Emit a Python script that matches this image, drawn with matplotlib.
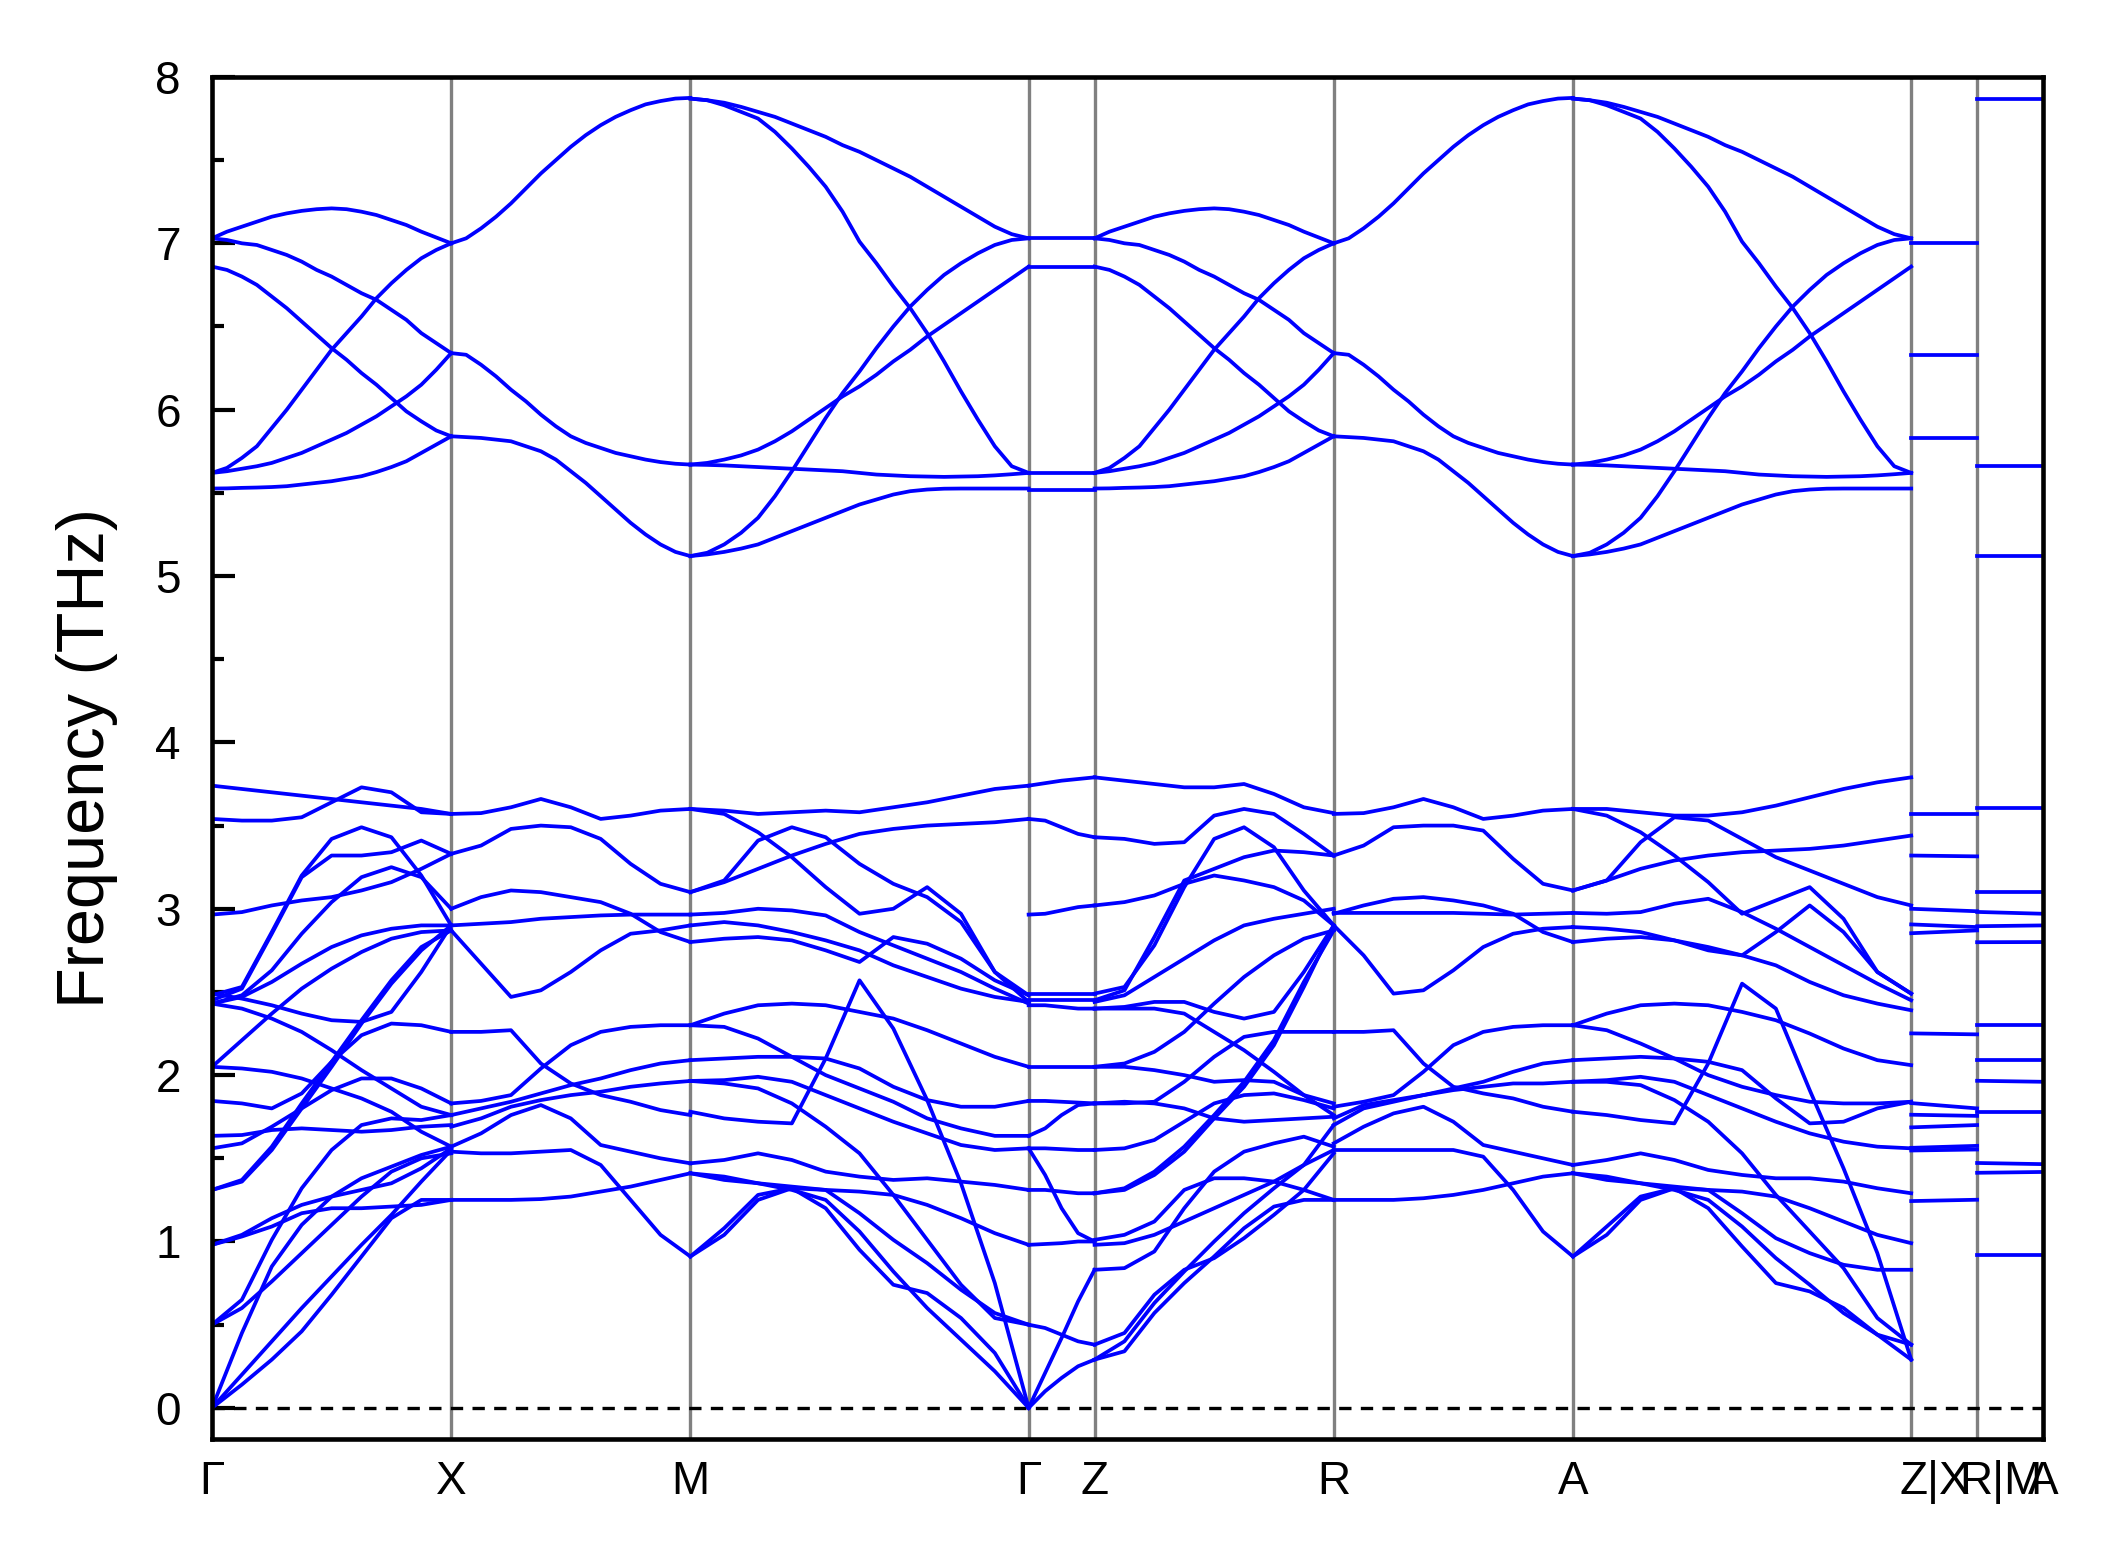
import numpy as np
import matplotlib.pyplot as plt
from matplotlib.ticker import MultipleLocator
from matplotlib.transforms import ScaledTranslation

plt.rcParams['font.family'] = ['Liberation Sans', 'DejaVu Sans']

# path: segment lengths in units of |Γ-X|
seg_len = [1.0, 1.0, 1.4142, 0.2756, 1.0, 1.0, 1.4142, 0.2756, 0.2756]
tick_labels = ["Γ", "X", "M", "Γ", "Z", "R", "A", "Z|X", "R|M", "A"]

# frequencies (THz) read along each segment, evenly spaced samples
# upper optical group, Γ-X / X-M / M-Γ (Z-R / R-A / A-Z look the same)
gx_up = [
    [7.03, 7.07, 7.10, 7.13, 7.16, 7.18, 7.195, 7.205, 7.21, 7.205, 7.19, 7.17, 7.14, 7.11, 7.07, 7.035, 7.00],
    [7.03, 7.02, 7.00, 6.99, 6.96, 6.93, 6.89, 6.84, 6.80, 6.75, 6.70, 6.66, 6.60, 6.54, 6.46, 6.40, 6.34],
    [6.86, 6.84, 6.80, 6.75, 6.68, 6.61, 6.53, 6.45, 6.37, 6.30, 6.22, 6.15, 6.07, 5.99, 5.93, 5.875, 5.84],
    [5.62, 5.65, 5.71, 5.78, 5.89, 6.00, 6.12, 6.24, 6.36, 6.46, 6.56, 6.67, 6.76, 6.84, 6.91, 6.96, 7.00],
    [5.62, 5.63, 5.645, 5.66, 5.68, 5.71, 5.74, 5.78, 5.82, 5.86, 5.91, 5.96, 6.02, 6.08, 6.15, 6.24, 6.34],
    [5.526, 5.527, 5.53, 5.532, 5.535, 5.54, 5.55, 5.56, 5.57, 5.585, 5.60, 5.625, 5.655, 5.69, 5.74, 5.79, 5.84],
]
xm_up = [
    [7.00, 7.03, 7.09, 7.16, 7.24, 7.33, 7.42, 7.50, 7.58, 7.65, 7.71, 7.76, 7.80, 7.835, 7.855, 7.87, 7.874],
    [6.34, 6.33, 6.27, 6.20, 6.12, 6.05, 5.97, 5.90, 5.84, 5.80, 5.77, 5.74, 5.72, 5.70, 5.685, 5.675, 5.67],
    [5.84, 5.835, 5.83, 5.82, 5.81, 5.78, 5.75, 5.70, 5.63, 5.56, 5.48, 5.40, 5.32, 5.25, 5.19, 5.145, 5.12],
]
mg_up = [
    [7.87, 7.86, 7.845, 7.82, 7.79, 7.76, 7.72, 7.68, 7.64, 7.59, 7.55,
     7.50, 7.45, 7.40, 7.34, 7.28, 7.22, 7.16, 7.10, 7.055, 7.03],
    [7.87, 7.86, 7.83, 7.79, 7.75, 7.67, 7.57, 7.46, 7.34, 7.19, 7.01,
     6.88, 6.74, 6.61, 6.46, 6.29, 6.11, 5.94, 5.78, 5.66, 5.62],
    [5.12, 5.14, 5.19, 5.26, 5.35, 5.48, 5.63, 5.79, 5.95, 6.10, 6.23,
     6.37, 6.50, 6.62, 6.72, 6.81, 6.88, 6.94, 6.99, 7.02, 7.03],
    [5.67, 5.68, 5.70, 5.725, 5.76, 5.81, 5.87, 5.94, 6.01, 6.08, 6.14,
     6.21, 6.29, 6.36, 6.44, 6.51, 6.58, 6.65, 6.72, 6.79, 6.86],
    [5.67, 5.668, 5.665, 5.66, 5.655, 5.65, 5.645, 5.64, 5.635, 5.63, 5.62,
     5.61, 5.605, 5.60, 5.598, 5.596, 5.598, 5.60, 5.605, 5.612, 5.62],
    [5.12, 5.13, 5.145, 5.165, 5.19, 5.23, 5.27, 5.31, 5.35, 5.39, 5.43,
     5.46, 5.49, 5.51, 5.52, 5.525, 5.526, 5.526, 5.526, 5.526, 5.526],
]
gz_up = [[7.03, 7.03], [6.86, 6.86], [5.62, 5.62], [5.52, 5.52]]

# lower group
gx_low = [
    [3.74, 3.72, 3.70, 3.68, 3.66, 3.64, 3.62, 3.60, 3.57],
    [3.54, 3.53, 3.53, 3.55, 3.64, 3.73, 3.70, 3.58, 3.57],
    [2.48, 2.53, 2.86, 3.20, 3.42, 3.49, 3.43, 3.20, 2.90],
    [2.45, 2.52, 2.85, 3.19, 3.32, 3.32, 3.34, 3.41, 3.33],
    [2.965, 2.98, 3.02, 3.05, 3.07, 3.11, 3.16, 3.24, 3.33],
    [2.43, 2.48, 2.63, 2.85, 3.04, 3.19, 3.25, 3.19, 3.00],
    [2.43, 2.47, 2.56, 2.67, 2.77, 2.84, 2.88, 2.90, 2.90],
    [2.49, 2.46, 2.42, 2.37, 2.33, 2.32, 2.38, 2.62, 2.90],
    [2.43, 2.40, 2.34, 2.26, 2.15, 2.03, 1.92, 1.81, 1.76],
    [2.05, 2.21, 2.37, 2.52, 2.64, 2.74, 2.82, 2.86, 2.87],
    [2.05, 2.04, 2.02, 1.98, 1.92, 1.86, 1.78, 1.66, 1.57],
    [1.845, 1.83, 1.80, 1.89, 2.08, 2.24, 2.31, 2.30, 2.26],
    [1.635, 1.64, 1.67, 1.68, 1.67, 1.66, 1.67, 1.69, 1.70],
    [1.56, 1.59, 1.69, 1.80, 1.91, 1.98, 1.98, 1.92, 1.83],
    [1.31, 1.36, 1.55, 1.80, 2.05, 2.31, 2.55, 2.75, 2.90],
    [1.31, 1.37, 1.57, 1.83, 2.08, 2.33, 2.57, 2.77, 2.87],
    [0.98, 1.04, 1.14, 1.22, 1.27, 1.31, 1.35, 1.44, 1.56],
    [0.98, 1.03, 1.09, 1.17, 1.20, 1.20, 1.21, 1.22, 1.25],
    [0.50, 0.65, 1.01, 1.32, 1.55, 1.70, 1.74, 1.73, 1.76],
    [0.50, 0.60, 0.76, 0.93, 1.10, 1.27, 1.42, 1.50, 1.53],
    [0.00, 0.14, 0.29, 0.46, 0.68, 0.91, 1.14, 1.25, 1.25],
    [0.00, 0.20, 0.40, 0.60, 0.79, 0.98, 1.16, 1.36, 1.55],
    [0.00, 0.45, 0.85, 1.10, 1.27, 1.38, 1.45, 1.52, 1.57],
]
xm_low = [
    [3.57, 3.575, 3.61, 3.66, 3.61, 3.54, 3.56, 3.59, 3.60],
    [3.33, 3.38, 3.48, 3.50, 3.49, 3.42, 3.27, 3.15, 3.10],
    [3.00, 3.07, 3.11, 3.10, 3.07, 3.04, 2.97, 2.86, 2.80],
    [2.90, 2.91, 2.92, 2.94, 2.95, 2.96, 2.965, 2.965, 2.965],
    [2.87, 2.67, 2.47, 2.51, 2.62, 2.75, 2.85, 2.87, 2.90],
    [2.26, 2.26, 2.27, 2.07, 1.95, 1.88, 1.84, 1.79, 1.76],
    [1.83, 1.845, 1.88, 2.04, 2.18, 2.26, 2.29, 2.30, 2.30],
    [1.76, 1.80, 1.84, 1.89, 1.94, 1.98, 2.03, 2.07, 2.09],
    [1.69, 1.74, 1.81, 1.85, 1.88, 1.90, 1.93, 1.95, 1.965],
    [1.57, 1.65, 1.76, 1.82, 1.74, 1.58, 1.54, 1.50, 1.47],
    [1.54, 1.53, 1.53, 1.54, 1.55, 1.46, 1.25, 1.04, 0.91],
    [1.25, 1.25, 1.25, 1.255, 1.27, 1.30, 1.33, 1.37, 1.41],
]
mg_low = [
    [3.60, 3.59, 3.57, 3.58, 3.59, 3.58, 3.61, 3.64, 3.68, 3.72, 3.74],
    [3.60, 3.57, 3.46, 3.31, 3.13, 2.97, 3.00, 3.13, 2.97, 2.62, 2.48],
    [3.10, 3.17, 3.41, 3.49, 3.43, 3.27, 3.15, 3.07, 2.92, 2.62, 2.44],
    [3.10, 3.16, 3.24, 3.32, 3.39, 3.45, 3.48, 3.50, 3.51, 3.52, 3.54],
    [2.965, 2.975, 3.00, 2.99, 2.96, 2.86, 2.78, 2.70, 2.62, 2.52, 2.43],
    [2.90, 2.92, 2.90, 2.86, 2.81, 2.75, 2.66, 2.59, 2.52, 2.47, 2.44],
    [2.80, 2.82, 2.83, 2.81, 2.75, 2.68, 2.83, 2.79, 2.70, 2.57, 2.48],
    [2.30, 2.37, 2.42, 2.43, 2.42, 2.38, 2.34, 2.27, 2.19, 2.11, 2.05],
    [2.30, 2.29, 2.22, 2.11, 2.00, 1.92, 1.84, 1.74, 1.68, 1.635, 1.635],
    [2.09, 2.10, 2.11, 2.11, 2.10, 2.04, 1.93, 1.85, 1.81, 1.81, 1.845],
    [1.965, 1.95, 1.92, 1.83, 1.69, 1.53, 1.28, 1.01, 0.74, 0.54, 0.50],
    [1.78, 1.74, 1.72, 1.71, 2.10, 2.57, 2.28, 1.85, 1.35, 0.75, 0.00],
    [1.47, 1.49, 1.53, 1.49, 1.42, 1.39, 1.37, 1.38, 1.36, 1.34, 1.31],
    [1.41, 1.37, 1.35, 1.33, 1.31, 1.30, 1.28, 1.22, 1.14, 1.05, 0.98],
    [0.91, 1.08, 1.28, 1.32, 1.20, 0.95, 0.74, 0.69, 0.54, 0.33, 0.00],
    [0.91, 1.04, 1.25, 1.32, 1.31, 1.17, 1.01, 0.87, 0.71, 0.57, 0.50],
    [1.41, 1.39, 1.35, 1.31, 1.25, 1.06, 0.82, 0.60, 0.41, 0.22, 0.00],
    [1.965, 1.97, 1.99, 1.96, 1.88, 1.80, 1.72, 1.65, 1.58, 1.55, 1.56],
]
gz_low = [
    [3.74, 3.755, 3.77, 3.78, 3.79],
    [3.54, 3.53, 3.49, 3.45, 3.43],
    [2.965, 2.97, 2.99, 3.01, 3.02],
    [2.49, 2.49, 2.49, 2.49, 2.49],
    [2.45, 2.45, 2.45, 2.45, 2.45],
    [2.42, 2.42, 2.41, 2.40, 2.40],
    [2.05, 2.05, 2.05, 2.05, 2.05],
    [1.845, 1.845, 1.84, 1.835, 1.83],
    [1.635, 1.68, 1.76, 1.82, 1.83],
    [1.56, 1.56, 1.555, 1.55, 1.55],
    [1.31, 1.31, 1.30, 1.29, 1.29],
    [0.98, 0.985, 0.99, 1.00, 1.00],
    [1.56, 1.40, 1.20, 1.05, 1.00],
    [0.50, 0.48, 0.44, 0.40, 0.38],
    [0.00, 0.21, 0.42, 0.64, 0.83],
    [0.00, 0.10, 0.18, 0.25, 0.29],
]
zr_low = [
    [3.79, 3.77, 3.75, 3.73, 3.73, 3.75, 3.69, 3.61, 3.575],
    [3.43, 3.42, 3.39, 3.40, 3.56, 3.60, 3.57, 3.45, 3.32],
    [2.49, 2.53, 2.78, 3.13, 3.42, 3.49, 3.37, 3.11, 2.90],
    [2.45, 2.51, 2.83, 3.17, 3.24, 3.31, 3.35, 3.34, 3.32],
    [3.02, 3.04, 3.08, 3.15, 3.20, 3.17, 3.13, 3.05, 2.90],
    [2.44, 2.48, 2.59, 2.70, 2.81, 2.90, 2.94, 2.97, 3.00],
    [2.40, 2.41, 2.44, 2.44, 2.38, 2.34, 2.38, 2.62, 2.90],
    [2.40, 2.40, 2.40, 2.37, 2.26, 2.15, 2.02, 1.88, 1.76],
    [2.05, 2.07, 2.14, 2.26, 2.43, 2.59, 2.72, 2.82, 2.87],
    [2.05, 2.05, 2.03, 2.00, 1.96, 1.97, 1.96, 1.88, 1.83],
    [1.83, 1.84, 1.83, 1.80, 1.74, 1.72, 1.73, 1.74, 1.75],
    [1.83, 1.83, 1.84, 1.96, 2.11, 2.23, 2.26, 2.26, 2.26],
    [1.55, 1.56, 1.61, 1.72, 1.83, 1.88, 1.89, 1.85, 1.80],
    [1.29, 1.31, 1.40, 1.54, 1.74, 1.93, 2.18, 2.53, 2.90],
    [1.29, 1.32, 1.42, 1.57, 1.76, 1.96, 2.21, 2.56, 2.87],
    [1.01, 1.04, 1.12, 1.31, 1.38, 1.38, 1.36, 1.31, 1.25],
    [0.98, 0.99, 1.04, 1.12, 1.20, 1.28, 1.36, 1.46, 1.55],
    [0.83, 0.84, 0.94, 1.20, 1.42, 1.54, 1.59, 1.63, 1.57],
    [0.38, 0.45, 0.68, 0.83, 0.90, 1.02, 1.16, 1.31, 1.53],
    [0.29, 0.34, 0.57, 0.75, 0.91, 1.08, 1.21, 1.25, 1.25],
    [0.29, 0.40, 0.63, 0.82, 1.00, 1.17, 1.32, 1.46, 1.70],
]
ra_low = [
    [3.57, 3.575, 3.61, 3.66, 3.61, 3.54, 3.56, 3.59, 3.60],
    [3.32, 3.38, 3.49, 3.50, 3.50, 3.47, 3.30, 3.15, 3.11],
    [2.97, 3.02, 3.06, 3.07, 3.05, 3.02, 2.97, 2.86, 2.80],
    [2.975, 2.975, 2.975, 2.975, 2.975, 2.97, 2.965, 2.97, 2.975],
    [2.90, 2.72, 2.49, 2.51, 2.63, 2.77, 2.85, 2.88, 2.89],
    [2.26, 2.26, 2.27, 2.07, 1.93, 1.89, 1.86, 1.81, 1.78],
    [1.81, 1.84, 1.88, 2.02, 2.18, 2.26, 2.29, 2.30, 2.30],
    [1.74, 1.82, 1.85, 1.88, 1.92, 1.96, 2.02, 2.07, 2.09],
    [1.70, 1.80, 1.84, 1.88, 1.91, 1.93, 1.95, 1.95, 1.96],
    [1.59, 1.69, 1.77, 1.81, 1.72, 1.58, 1.54, 1.50, 1.46],
    [1.55, 1.55, 1.55, 1.55, 1.55, 1.51, 1.31, 1.06, 0.91],
    [1.25, 1.25, 1.25, 1.26, 1.28, 1.31, 1.35, 1.39, 1.41],
]
az_low = [
    [3.60, 3.60, 3.58, 3.56, 3.56, 3.58, 3.62, 3.67, 3.72, 3.76, 3.79],
    [3.11, 3.17, 3.40, 3.55, 3.53, 3.42, 3.31, 3.23, 3.15, 3.07, 3.02],
    [3.11, 3.17, 3.24, 3.29, 3.32, 3.34, 3.35, 3.36, 3.38, 3.41, 3.44],
    [3.60, 3.56, 3.46, 3.32, 3.16, 2.97, 3.05, 3.13, 2.94, 2.62, 2.49],
    [2.975, 2.97, 2.98, 3.03, 3.06, 2.98, 2.88, 2.77, 2.66, 2.55, 2.45],
    [2.89, 2.88, 2.86, 2.81, 2.75, 2.72, 2.66, 2.56, 2.48, 2.43, 2.39],
    [2.80, 2.82, 2.83, 2.81, 2.77, 2.72, 2.86, 3.02, 2.86, 2.62, 2.49],
    [2.30, 2.37, 2.42, 2.43, 2.42, 2.38, 2.33, 2.25, 2.16, 2.09, 2.06],
    [2.30, 2.27, 2.19, 2.10, 2.00, 1.93, 1.88, 1.84, 1.83, 1.83, 1.84],
    [2.09, 2.10, 2.11, 2.10, 2.08, 2.03, 1.86, 1.71, 1.72, 1.80, 1.84],
    [1.96, 1.96, 1.94, 1.85, 1.72, 1.53, 1.28, 1.06, 0.84, 0.54, 0.38],
    [1.78, 1.76, 1.73, 1.71, 2.07, 2.55, 2.40, 1.91, 1.44, 0.93, 0.29],
    [1.46, 1.49, 1.53, 1.49, 1.43, 1.40, 1.38, 1.38, 1.36, 1.32, 1.29],
    [1.41, 1.37, 1.35, 1.33, 1.31, 1.30, 1.27, 1.20, 1.12, 1.04, 0.99],
    [0.91, 1.09, 1.27, 1.32, 1.20, 0.97, 0.75, 0.70, 0.60, 0.44, 0.29],
    [0.91, 1.04, 1.25, 1.32, 1.31, 1.17, 1.02, 0.93, 0.86, 0.83, 0.83],
    [1.41, 1.39, 1.35, 1.31, 1.25, 1.09, 0.90, 0.74, 0.57, 0.44, 0.38],
    [1.96, 1.97, 1.99, 1.96, 1.88, 1.80, 1.72, 1.65, 1.60, 1.57, 1.56],
]
# X-R and M-A are flat
xr_flat = [
    [7.00, 7.00], [6.33, 6.33], [5.83, 5.83],
    [3.567, 3.567], [3.32, 3.315], [3.00, 2.985], [2.906, 2.89], [2.853, 2.87],
    [2.251, 2.245], [1.832, 1.80], [1.762, 1.755], [1.686, 1.70],
    [1.563, 1.575], [1.547, 1.553], [1.243, 1.251],
]
ma_flat = [
    [7.87, 7.87], [5.66, 5.66], [5.12, 5.12],
    [3.605, 3.605], [3.10, 3.10], [2.981, 2.97], [2.895, 2.90], [2.799, 2.80],
    [2.304, 2.304], [2.09, 2.09], [1.966, 1.96], [1.778, 1.778],
    [1.472, 1.465], [1.413, 1.418], [0.918, 0.918],
]

segments = [
    gx_up + gx_low, xm_up + xm_low, mg_up + mg_low, gz_up + gz_low,
    gx_up + zr_low, xm_up + ra_low, mg_up + az_low, xr_flat, ma_flat,
]

fig = plt.figure(figsize=(2118 / 300, 1567 / 300), dpi=300)
ax = fig.add_axes([0.1001, 0.0817, 0.8645, 0.8692])

edges = np.concatenate([[0.0], np.cumsum(seg_len)])
for i, bands in enumerate(segments):
    for vals in bands:
        xs = np.linspace(edges[i], edges[i + 1], len(vals))
        ax.plot(xs, vals, color='#0000ff', lw=0.9, solid_joinstyle='round')

for xv in edges[1:-1]:
    ax.axvline(xv, color='#808080', lw=0.8, zorder=0)
ax.axhline(0, color='black', lw=0.8, ls=(0, (3.7, 2.8)), zorder=0)

ax.set_xlim(edges[0], edges[-1])
ax.set_ylim(-0.187, 8.0)
ax.set_xticks(edges)
ax.set_xticklabels(tick_labels)
ax.yaxis.set_major_locator(MultipleLocator(1))
ax.yaxis.set_minor_locator(MultipleLocator(0.5))
ax.tick_params(axis='y', which='major', direction='in', length=5.6, width=1.0,
               labelsize=11, pad=7.5)
ax.tick_params(axis='y', which='minor', direction='in', length=2.8, width=1.0)
ax.tick_params(axis='x', length=0, labelsize=11, pad=5)
for s in ax.spines.values():
    s.set_linewidth(1.1)
ax.set_ylabel('Frequency (THz)', fontsize=16, labelpad=9)

# the joined labels sit a little to the right of their ticks
shift = ScaledTranslation(0.08, 0, fig.dpi_scale_trans)
for lab in ax.get_xticklabels()[7:9]:
    lab.set_transform(lab.get_transform() + shift)

fig.savefig('out.png', dpi=300)
